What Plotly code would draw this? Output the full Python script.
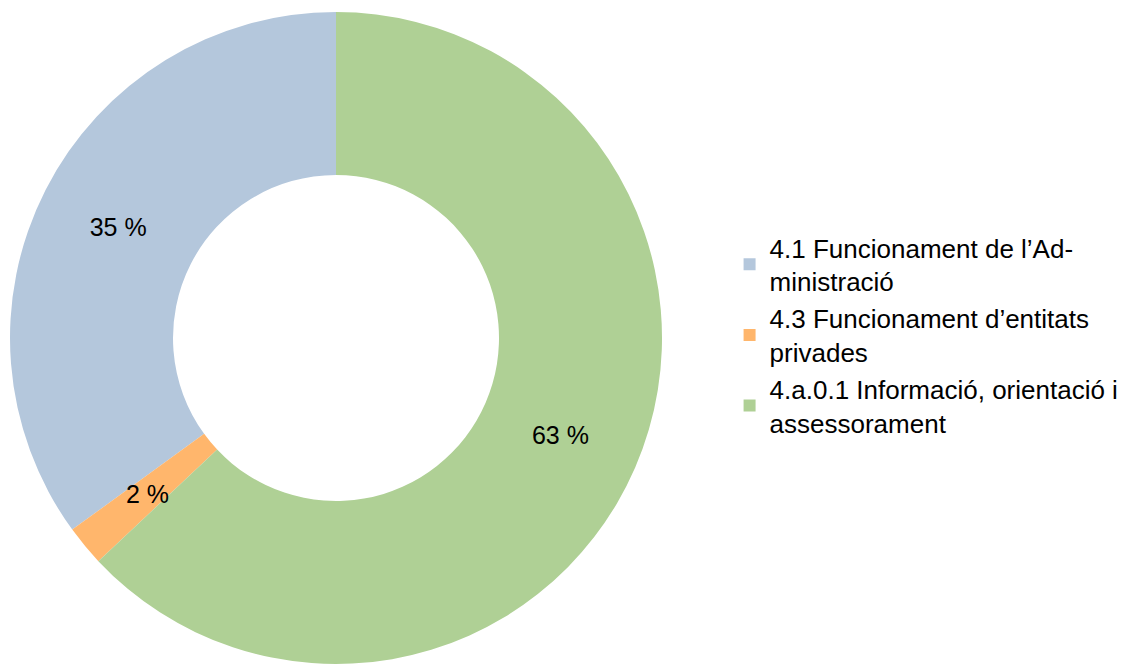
import math
import plotly.graph_objects as go

labels = ["4.1 Funcionament de l’Ad-<br>ministració",
          "4.3 Funcionament d’entitats<br>privades",
          "4.a.0.1 Informació, orientació i<br>assessorament"]
values = [35, 2, 63]
colors = ["#B4C7DC", "#FFB66C", "#AFD095"]

W, H = 1131, 664
cx, cy, R = 328, 330, 326   # domain box centre (px from left / top) and half size
HOLE = 0.5

total = sum(values)
texts = [f"{v} %" for v in values]
fits = [v / total >= 0.05 for v in values]

# first slice starts at 12 o'clock, drawn counterclockwise
rot = -360.0 * values[0] / total

fig = go.Figure(go.Pie(
    labels=labels,
    values=values,
    text=[t if f else "" for t, f in zip(texts, fits)],
    textinfo="text",
    marker=dict(colors=colors, line=dict(width=0)),
    hole=HOLE,
    sort=False,
    direction="counterclockwise",
    rotation=rot,
    textposition=["inside" if f else "none" for f in fits],
    insidetextorientation="horizontal",
    textfont=dict(size=25, color="black", family="Liberation Sans"),
    domain=dict(x=[(cx - R) / W, (cx + R) / W], y=[(H - cy - R) / H, (H - cy + R) / H]),
))

# labels for slices too thin for plotly's inside text: put them at mid-ring
ccx, ccy = cx, cy
rmid = R * (1 + HOLE) / 2
cum = 0
for v, t, f in zip(values, texts, fits):
    mid = (cum + v / 2) / total
    cum += v
    if f:
        continue
    ang = math.pi / 2 + 2 * math.pi * mid   # counterclockwise from top
    px = ccx + rmid * math.cos(ang)
    py = ccy - rmid * math.sin(ang)
    fig.add_annotation(x=px / W, y=1 - py / H, xref="paper", yref="paper",
                       xanchor="center", yanchor="middle",
                       text=t, showarrow=False,
                       font=dict(size=25, color="black", family="Liberation Sans"))

fig.update_layout(
    width=W, height=H,
    margin=dict(l=0, r=0, t=0, b=0),
    paper_bgcolor="white",
    font=dict(family="Liberation Sans", size=26, color="black"),
    legend=dict(x=0.638, y=0.5075, xanchor="left", yanchor="middle",
                font=dict(size=26, color="black"), tracegroupgap=0,
                itemsizing="constant", itemwidth=30),
    showlegend=True,
)

fig.write_html("out.html")
